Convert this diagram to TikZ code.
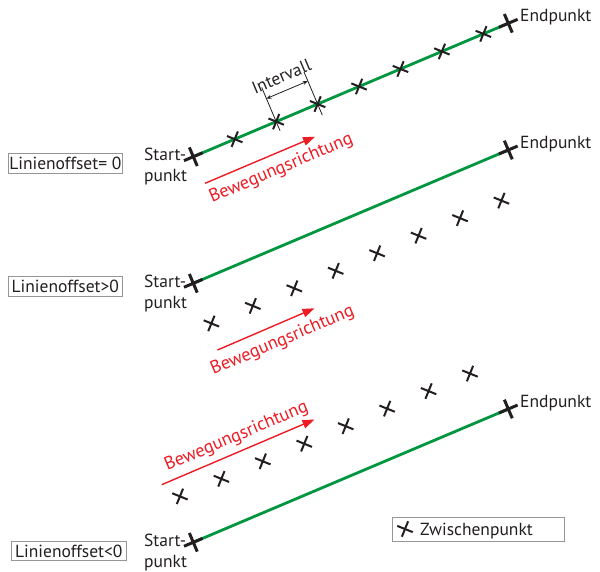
\documentclass[tikz,border=0pt]{standalone}
\usepackage{fontspec}
\setmainfont{PT Sans}
\usetikzlibrary{shapes.misc,arrows.meta}
\definecolor{lgreen}{RGB}{0,150,64}
\definecolor{lred}{RGB}{237,28,36}
\definecolor{dark}{RGB}{35,31,32}
\definecolor{boxgray}{RGB}{150,150,150}
\begin{document}
\begin{tikzpicture}[x=1pt,y=-1pt,
  lbl/.style={font=\fontsize{17.5}{21}\selectfont, text=dark, inner sep=0pt},
  redlbl/.style={font=\fontsize{18.2}{21}\selectfont, text=lred, inner sep=0pt, rotate=22.95, anchor=base west},
  midcross/.style={cross out, draw=dark, line width=2pt, minimum size=9.8pt, inner sep=0pt, rotate=22.95},
  endcross/.style={cross out, draw=dark, line width=3pt, minimum size=11.3pt, inner sep=0pt, rotate=67.95},
  greenline/.style={draw=lgreen, line width=2.8pt},
  redarrow/.style={draw=lred, line width=1.4pt, -{Triangle[length=12pt,width=8.5pt]}},
  dimline/.style={draw=dark, line width=0.8pt},
  dimarrow/.style={draw=dark, line width=0.8pt, {Stealth[length=5pt,width=4pt]}-{Stealth[length=5pt,width=4pt]}},
  offbox/.style={draw=boxgray, line width=0.8pt, inner sep=0pt, font=\fontsize{17.5}{21}\selectfont, text=dark},
  startlbl/.style={lbl, anchor=base west}
]
\useasboundingbox (0,0) rectangle (600,571);

% ---------- panel 1 ----------
\coordinate (S1) at (193.3,156.7);
\coordinate (E1) at (508.3,23.3);
\draw[greenline] (S1) -- (E1);
\begin{scope}[shift={(S1)}, rotate=22.95]
  \foreach \k in {1,...,7} \node[midcross] (m1\k) at ({45*\k},0) {};
  \coordinate (ia) at (90,10);  \coordinate (ib) at (90,-37);
  \coordinate (ic) at (135,12); \coordinate (id) at (135,-35);
  \coordinate (ja) at (90,-25); \coordinate (jb) at (135,-25);
  \coordinate (jt) at (112.5,-33.5);
\end{scope}
\draw[dimline] (ia) -- (ib);
\draw[dimline] (ic) -- (id);
\draw[dimarrow] (ja) -- (jb);
\node[lbl, rotate=22.95, anchor=base] (intv) at (jt) {Intervall};
\node[endcross] (s1) at (S1) {};
\node[endcross] (e1) at (E1) {};
\node[startlbl] (sl1) at (144,160.5) {\begin{tabular}[t]{@{}l@{}}Start-\\punkt\end{tabular}};
\node[lbl, anchor=base west] (el1) at (520,21.3) {Endpunkt};
\coordinate (r1a) at (205,183.3); \coordinate (r1b) at (315,136.7);
\draw[redarrow] (r1a) -- (r1b);
\node[redlbl] (rt1) at (212,203) {Bewegungsrichtung};
\node[offbox, minimum width=114.7pt, minimum height=20pt] (b1) at (65.3,163.3) {Linienoffset= 0};

% ---------- panel 2 ----------
\coordinate (S2) at (193.3,283.3);
\coordinate (E2) at (508.3,150);
\draw[greenline] (S2) -- (E2);
\begin{scope}[shift={(S2)}, rotate=22.95]
  \foreach \k in {0,...,7} \node[midcross] (m2\k) at ({1+45*\k},44) {};
\end{scope}
\node[endcross] (s2) at (S2) {};
\node[endcross] (e2) at (E2) {};
\node[startlbl] (sl2) at (144,287.1) {\begin{tabular}[t]{@{}l@{}}Start-\\punkt\end{tabular}};
\node[lbl, anchor=base west] (el2) at (520,148) {Endpunkt};
\coordinate (r2a) at (217.5,350); \coordinate (r2b) at (314.5,308.3);
\draw[redarrow] (r2a) -- (r2b);
\node[redlbl] (rt2) at (213.3,375) {Bewegungsrichtung};
\node[offbox, minimum width=114.7pt, minimum height=20pt] (b2) at (65.3,286.7) {Linienoffset>0};

% ---------- panel 3 ----------
\coordinate (S3) at (193.3,542.3);
\coordinate (E3) at (508.3,409);
\draw[greenline] (S3) -- (E3);
\begin{scope}[shift={(S3)}, rotate=22.95]
  \foreach \k in {0,...,7} \node[midcross] (m3\k) at ({5.6+45*\k},-47.5) {};
\end{scope}
\node[endcross] (s3) at (S3) {};
\node[endcross] (e3) at (E3) {};
\node[startlbl] (sl3) at (144,546.1) {\begin{tabular}[t]{@{}l@{}}Start-\\punkt\end{tabular}};
\node[lbl, anchor=base west] (el3) at (520,407) {Endpunkt};
\coordinate (r3a) at (161.7,484.7); \coordinate (r3b) at (314.5,419.5);
\draw[redarrow] (r3a) -- (r3b);
\node[redlbl] (rt3) at (167.3,471) {Bewegungsrichtung};
\node[offbox, minimum width=114.3pt, minimum height=19pt] (b3) at (68.8,551.2) {Linienoffset<0};

% ---------- legend ----------
\node[draw=boxgray, line width=0.8pt, minimum width=171.6pt, minimum height=23.3pt, inner sep=0pt] (leg) at (478.5,529.35) {};
\node[midcross] (legx) at (405,529) {};
\node[lbl, anchor=base west] (legt) at (420,535.7) {Zwischenpunkt};
\end{tikzpicture}
\end{document}
